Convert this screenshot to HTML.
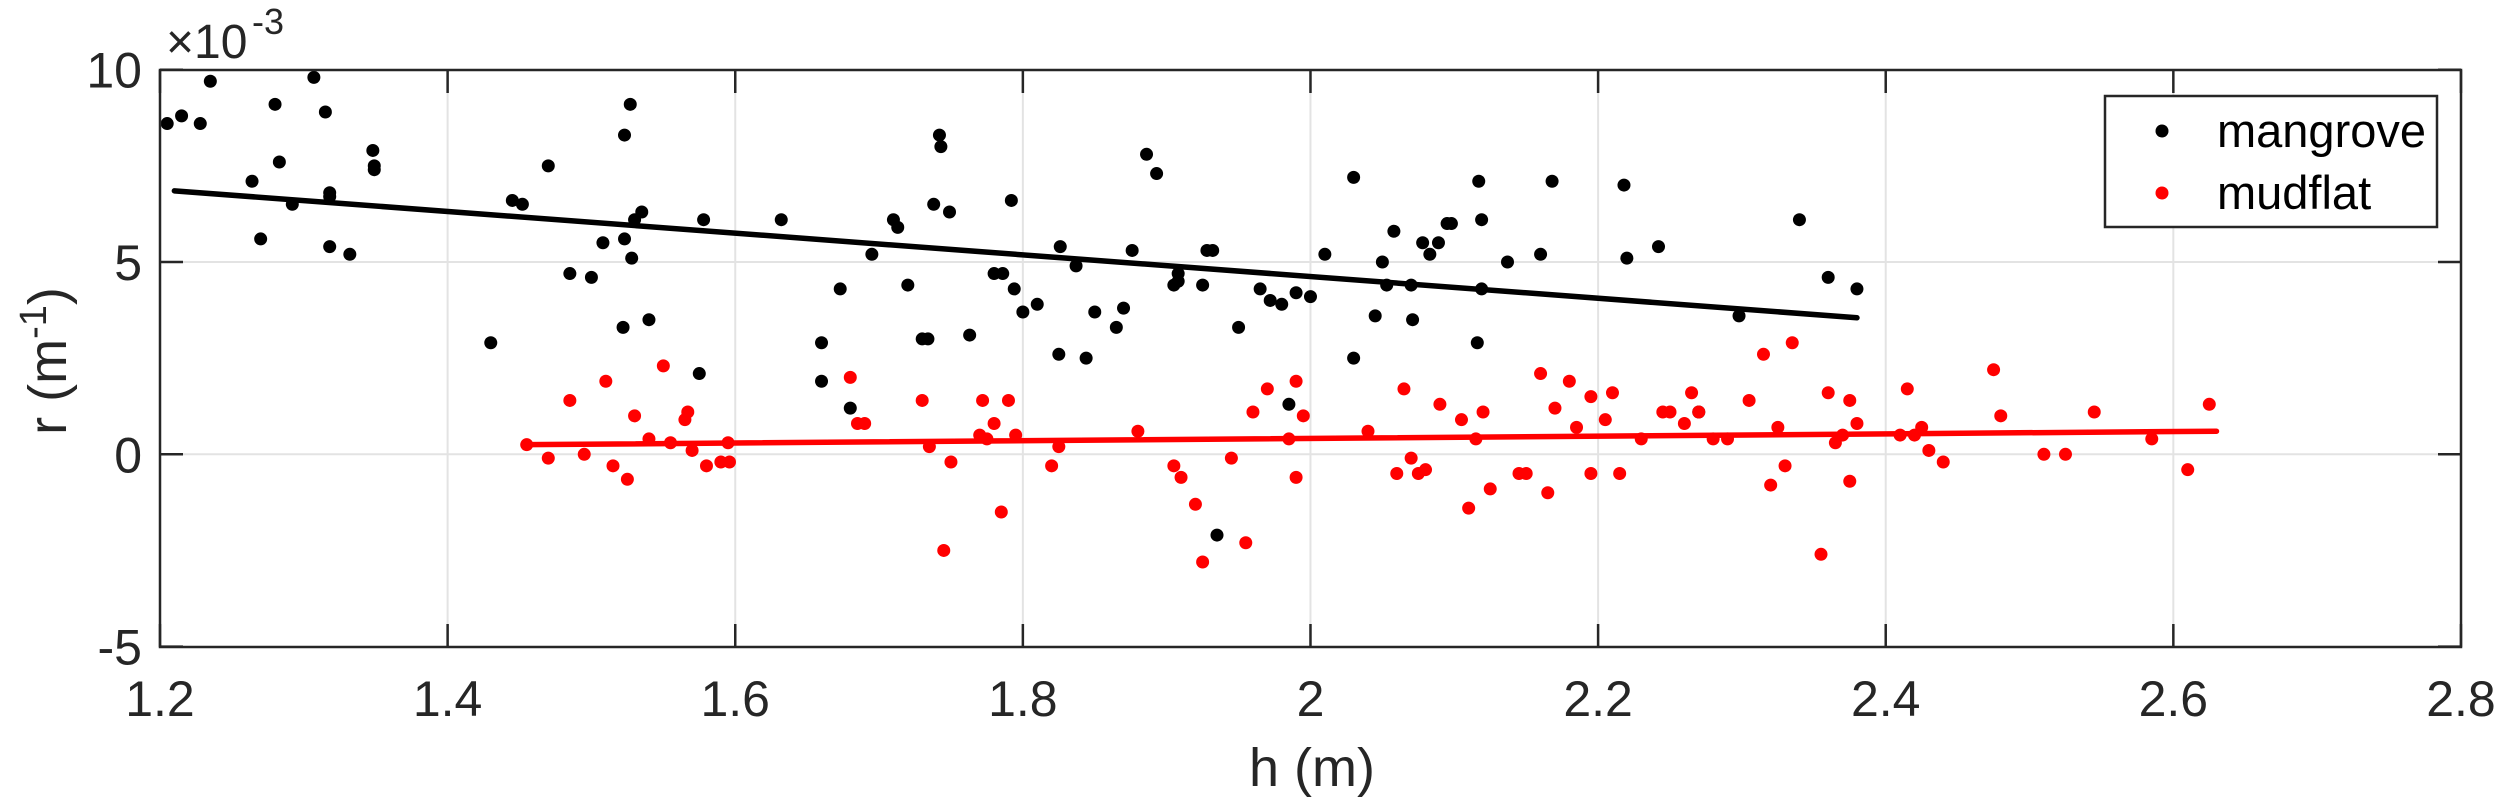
<!DOCTYPE html>
<html><head><meta charset="utf-8"><style>
html,body{margin:0;padding:0;background:#fff}
svg{display:block}
text{font-family:"Liberation Sans",Arial,sans-serif;fill:#262626}
</style></head><body>
<svg id="s" width="2500" height="802" viewBox="0 0 2500 802" xmlns="http://www.w3.org/2000/svg">
<rect x="0" y="0" width="2500" height="802" fill="#fff"/>
<g id="grid" stroke="#e3e3e3" stroke-width="2"></g>
<g id="data"></g>
<g id="axes" stroke="#262626" stroke-width="2.5" fill="none"></g>
<g id="labels" font-size="50"></g>
<text x="166" y="58" font-size="48">×10</text>
<text x="252" y="34" font-size="36">-3</text>
<text x="1312" y="786" font-size="54" text-anchor="middle">h (m)</text>
<text transform="translate(66,361) rotate(-90)" font-size="54" text-anchor="middle">r (m<tspan font-size="38" dy="-20">-1</tspan><tspan dy="20">)</tspan></text>
<rect x="2105" y="96" width="332" height="131" fill="#fff" stroke="#262626" stroke-width="2.5"/>
<circle cx="2162" cy="131" r="6.5" fill="#000"/>
<circle cx="2162" cy="193" r="6.5" fill="#f00"/>
<text x="2217" y="147" font-size="47" style="fill:#000">mangrove</text>
<text x="2217" y="209" font-size="47" style="fill:#000">mudflat</text>
</svg>
<script>
var NS="http://www.w3.org/2000/svg";
function X(h){return 160+(h-1.2)*1438.1;}
function Y(r){return 454.3-r*38.46;}
function el(p,t,a){var e=document.createElementNS(NS,t);for(var k in a)e.setAttribute(k,a[k]);document.getElementById(p).appendChild(e);return e;}
var L=160,R=2461,T=70,B=647;
[1.4,1.6,1.8,2.0,2.2,2.4,2.6].forEach(function(h){el("grid","line",{x1:X(h),x2:X(h),y1:T,y2:B});});
[5,0].forEach(function(r){el("grid","line",{x1:L,x2:R,y1:Y(r),y2:Y(r)});});
var blk=[[1.205,8.6],[1.215,8.8],[1.228,8.6],[1.235,9.7],[1.264,7.1],[1.27,5.6],[1.28,9.1],[1.283,7.6],[1.292,6.5],[1.307,9.8],[1.315,8.9],[1.318,6.8],[1.318,6.7],[1.318,5.4],[1.332,5.2],[1.348,7.9],[1.349,7.5],[1.349,7.4],[1.43,2.9],[1.445,6.6],[1.452,6.5],[1.47,7.5],[1.485,4.7],[1.50,4.6],[1.508,5.5],[1.522,3.3],[1.523,5.6],[1.527,9.1],[1.523,8.3],[1.528,5.1],[1.53,6.1],[1.535,6.3],[1.54,3.5],[1.575,2.1],[1.578,6.1],[1.632,6.1],[1.66,1.9],[1.66,2.9],[1.673,4.3],[1.68,1.2],[1.695,5.2],[1.71,6.1],[1.713,5.9],[1.72,4.4],[1.73,3.0],[1.734,3.0],[1.738,6.5],[1.742,8.3],[1.743,8.0],[1.749,6.3],[1.763,3.1],[1.78,4.7],[1.786,4.7],[1.792,6.6],[1.794,4.3],[1.80,3.7],[1.81,3.9],[1.825,2.6],[1.826,5.4],[1.837,4.9],[1.844,2.5],[1.85,3.7],[1.865,3.3],[1.87,3.8],[1.876,5.3],[1.886,7.8],[1.893,7.3],[1.905,4.4],[1.908,4.7],[1.908,4.5],[1.925,4.4],[1.928,5.3],[1.932,5.3],[1.935,-2.1],[1.95,3.3],[1.965,4.3],[1.972,4.0],[1.98,3.9],[1.985,1.3],[1.99,4.2],[2.00,4.1],[2.01,5.2],[2.03,7.2],[2.03,2.5],[2.045,3.6],[2.05,5.0],[2.053,4.4],[2.058,5.8],[2.07,4.4],[2.071,3.5],[2.078,5.5],[2.083,5.2],[2.089,5.5],[2.095,6.0],[2.098,6.0],[2.116,2.9],[2.119,4.3],[2.117,7.1],[2.119,6.1],[2.137,5.0],[2.16,5.2],[2.168,7.1],[2.218,7.0],[2.22,5.1],[2.242,5.4],[2.27,1.1],[2.298,3.6],[2.34,6.1],[2.36,4.6],[2.38,4.3]];
var red=[[1.455,0.25],[1.47,-0.1],[1.485,1.4],[1.495,0.0],[1.51,1.9],[1.515,-0.3],[1.525,-0.65],[1.53,1.0],[1.54,0.4],[1.55,2.3],[1.555,0.3],[1.565,0.9],[1.567,1.1],[1.57,0.1],[1.58,-0.3],[1.59,-0.2],[1.596,-0.2],[1.595,0.3],[1.68,2.0],[1.685,0.8],[1.69,0.8],[1.73,1.4],[1.735,0.2],[1.745,-2.5],[1.75,-0.2],[1.77,0.5],[1.772,1.4],[1.775,0.4],[1.78,0.8],[1.785,-1.5],[1.79,1.4],[1.795,0.5],[1.82,-0.3],[1.825,0.2],[1.88,0.6],[1.905,-0.3],[1.91,-0.6],[1.92,-1.3],[1.925,-2.8],[1.945,-0.1],[1.955,-2.3],[1.96,1.1],[1.97,1.7],[1.985,0.4],[1.99,-0.6],[1.99,1.9],[1.995,1.0],[2.04,0.6],[2.06,-0.5],[2.065,1.7],[2.07,-0.1],[2.075,-0.5],[2.08,-0.4],[2.09,1.3],[2.105,0.9],[2.11,-1.4],[2.115,0.4],[2.12,1.1],[2.125,-0.9],[2.145,-0.5],[2.15,-0.5],[2.16,2.1],[2.165,-1.0],[2.17,1.2],[2.18,1.9],[2.185,0.7],[2.195,1.5],[2.195,-0.5],[2.205,0.9],[2.21,1.6],[2.215,-0.5],[2.23,0.4],[2.245,1.1],[2.25,1.1],[2.26,0.8],[2.265,1.6],[2.27,1.1],[2.28,0.4],[2.29,0.4],[2.305,1.4],[2.315,2.6],[2.32,-0.8],[2.325,0.7],[2.33,-0.3],[2.335,2.9],[2.355,-2.6],[2.36,1.6],[2.365,0.3],[2.37,0.5],[2.375,1.4],[2.375,-0.7],[2.38,0.8],[2.41,0.5],[2.415,1.7],[2.42,0.5],[2.425,0.7],[2.43,0.1],[2.44,-0.2],[2.475,2.2],[2.48,1.0],[2.51,0.0],[2.525,0.0],[2.545,1.1],[2.585,0.4],[2.61,-0.4],[2.625,1.3]];
blk.forEach(function(p){el("data","circle",{cx:X(p[0]),cy:Y(p[1]),r:6.5,fill:"#000"});});
red.forEach(function(p){el("data","circle",{cx:X(p[0]),cy:Y(p[1]),r:6.5,fill:"#f00"});});
el("data","line",{x1:X(1.21),y1:Y(6.85),x2:X(2.38),y2:Y(3.55),stroke:"#000","stroke-width":5.5,"stroke-linecap":"round"});
el("data","line",{x1:X(1.455),y1:Y(0.25),x2:X(2.63),y2:Y(0.6),stroke:"#f00","stroke-width":5.5,"stroke-linecap":"round"});
el("axes","rect",{x:L,y:T,width:R-L,height:B-T});
for(var i=0;i<=8;i++){var x=X(1.2+i*0.2);
 el("axes","line",{x1:x,x2:x,y1:B,y2:B-23});el("axes","line",{x1:x,x2:x,y1:T,y2:T+23});
 var t=el("labels","text",{x:x,y:716,"text-anchor":"middle"});t.textContent=(1.2+i*0.2).toFixed(1).replace("2.0","2");}
[10,5,0,-5].forEach(function(r){var y=Y(r);
 el("axes","line",{x1:L,x2:L+23,y1:y,y2:y});el("axes","line",{x1:R,x2:R-23,y1:y,y2:y});
 var t=el("labels","text",{x:142,y:y+18,"text-anchor":"end"});t.textContent=r;});
</script>
</body></html>
